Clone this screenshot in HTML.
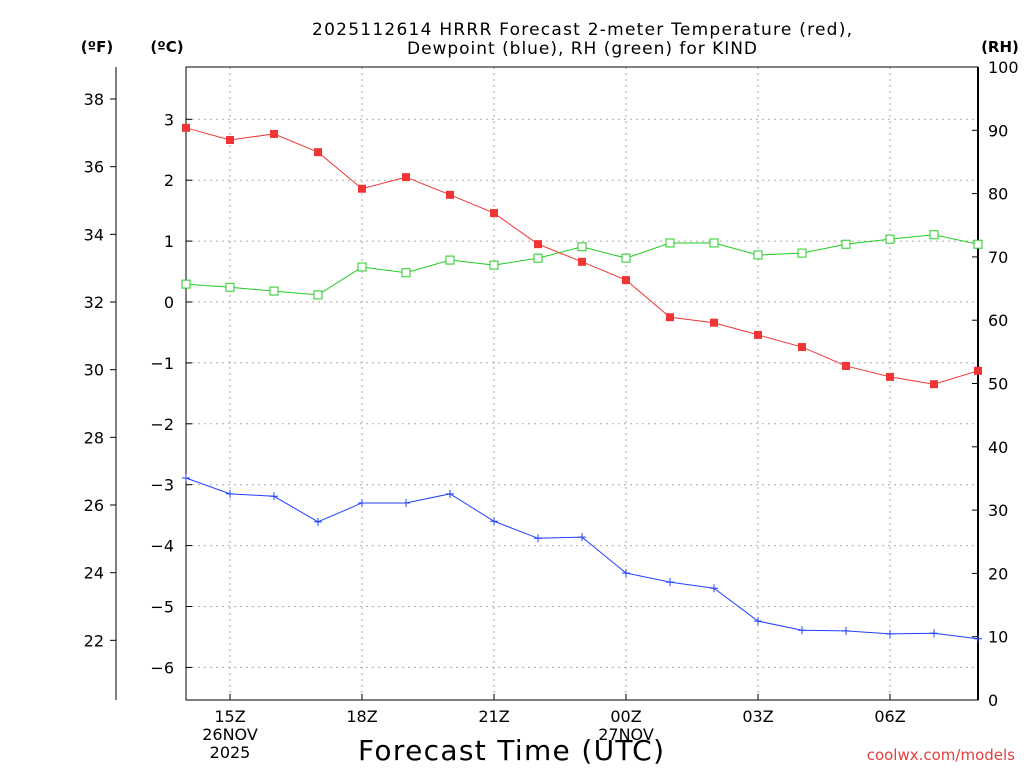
<!DOCTYPE html>
<html><head><meta charset="utf-8"><style>
body{margin:0;background:#fff;}
svg text{font-family:"DejaVu Sans","Liberation Sans",sans-serif;}
</style></head><body>
<svg id="c" width="1024" height="768" xmlns="http://www.w3.org/2000/svg">
<text x="582" y="35" text-anchor="middle" font-size="17" textLength="540" lengthAdjust="spacing">2025112614 HRRR Forecast 2-meter Temperature (red),</text>
<text x="582" y="54" text-anchor="middle" font-size="17" textLength="350" lengthAdjust="spacing">Dewpoint (blue), RH (green) for KIND</text>
<text x="97" y="52" text-anchor="middle" font-size="15" font-weight="bold">(ºF)</text>
<text x="167" y="52" text-anchor="middle" font-size="15" font-weight="bold">(ºC)</text>
<text x="1000" y="52" text-anchor="middle" font-size="15" font-weight="bold">(RH)</text>
<text x="511" y="760" text-anchor="middle" font-size="28" textLength="306" lengthAdjust="spacing">Forecast Time (UTC)</text>
<text x="1015" y="760" text-anchor="end" font-size="15" fill="#e04040">coolwx.com/models</text>
<g id="grid"></g><g id="axes"></g><g id="series"></g>
</svg>
<script>
const hours=[14,15,16,17,18,19,20,21,22,23,0,1,2,3,4,5,6,7,8];
const tempC=[2.86,2.66,2.76,2.46,1.86,2.05,1.76,1.46,0.95,0.66,0.36,-0.25,-0.34,-0.54,-0.74,-1.05,-1.23,-1.35,-1.13];
const dewC=[-2.89,-3.15,-3.19,-3.61,-3.30,-3.30,-3.15,-3.60,-3.88,-3.86,-4.45,-4.60,-4.70,-5.24,-5.39,-5.40,-5.45,-5.44,-5.53];
const rh=[65.7,65.2,64.6,64.0,68.4,67.5,69.5,68.7,69.8,71.6,69.8,72.2,72.2,70.3,70.6,72.0,72.8,73.5,72.0];
const cTicks=[3,2,1,0,-1,-2,-3,-4,-5,-6];
const fTicks=[38,36,34,32,30,28,26,24,22];
const rhTicks=[0,10,20,30,40,50,60,70,80,90,100];
const xLabels=[[1,"15Z","26NOV","2025"],[4,"18Z"],[7,"21Z"],[10,"00Z","27NOV"],[13,"03Z"],[16,"06Z"]];
const L=186,R=978,T=67,B=700;
const xs=i=>L+i*44;
const yc=c=>302-c*60.9;
const yf=f=>yc((f-32)*5/9);
const yr=r=>B-r*(B-T)/100;
const NS="http://www.w3.org/2000/svg";
function mk(p,t,a){const e=document.createElementNS(NS,t);for(const k in a)e.setAttribute(k,a[k]);document.getElementById(p).appendChild(e);return e;}
cTicks.forEach(c=>{const l=mk('grid','line',{x1:L,x2:R,y1:yc(c),y2:yc(c),stroke:'#aaa','stroke-dasharray':'2,4'});

const t=mk('axes','text',{x:174,y:yc(c)+6,'text-anchor':'end','font-size':16});t.textContent=String(c).replace('-','−');

mk('axes','line',{x1:L,x2:L+6,y1:yc(c),y2:yc(c),stroke:'#000'});});
xLabels.forEach(x=>{const l=mk('grid','line',{x1:xs(x[0]),x2:xs(x[0]),y1:T,y2:B,stroke:'#aaa','stroke-dasharray':'2,4'});

mk('axes','line',{x1:xs(x[0]),x2:xs(x[0]),y1:B,y2:B-6,stroke:'#000'});
for(let j=1;j<x.length;j++){const t=mk('axes','text',{x:xs(x[0]),y:B+22+(j-1)*18,'text-anchor':'middle','font-size':16});t.textContent=x[j];
}});
fTicks.forEach(f=>{mk('axes','line',{x1:110,x2:116,y1:yf(f),y2:yf(f),stroke:'#000'});
const t=mk('axes','text',{x:104,y:yf(f)+6,'text-anchor':'end','font-size':16});t.textContent=f;
});
rhTicks.forEach(r=>{mk('axes','line',{x1:R,x2:R-6,y1:yr(r),y2:yr(r),stroke:'#000'});
const t=mk('axes','text',{x:988,y:yr(r)+6,'font-size':16});t.textContent=r;
});
const fr=mk('axes','rect',{x:L,y:T,width:R-L,height:B-T,fill:'none',stroke:'#000','stroke-width':1});

mk('axes','line',{x1:R,x2:R,y1:T,y2:B,stroke:'#000','stroke-width':2});
const fa=mk('axes','line',{x1:116,x2:116,y1:T,y2:B,stroke:'#000'});

function series(vals,yfn,col,kind,name){
const pts=vals.map((v,i)=>xs(i)+','+yfn(v)).join(' ');
const pl=mk('series','polyline',{points:pts,fill:'none',stroke:col,'stroke-width':1});

vals.forEach((v,i)=>{const x=xs(i),y=yfn(v);let m;
if(kind=='fill')m=mk('series','rect',{x:x-4,y:y-4,width:8,height:8,fill:col});
else if(kind=='open')m=mk('series','rect',{x:x-4,y:y-4,width:8,height:8,fill:'#fff',stroke:col});
else m=mk('series','path',{d:`M${x-4} ${y}H${x+4}M${x} ${y-4}V${y+4}`,stroke:col});
});}
series(rh,yr,'#22cc22','open','rh');
series(tempC,yc,'#f03535','fill','temperature');
series(dewC,yc,'#2040ff','plus','dewpoint');
</script>
</body></html>
